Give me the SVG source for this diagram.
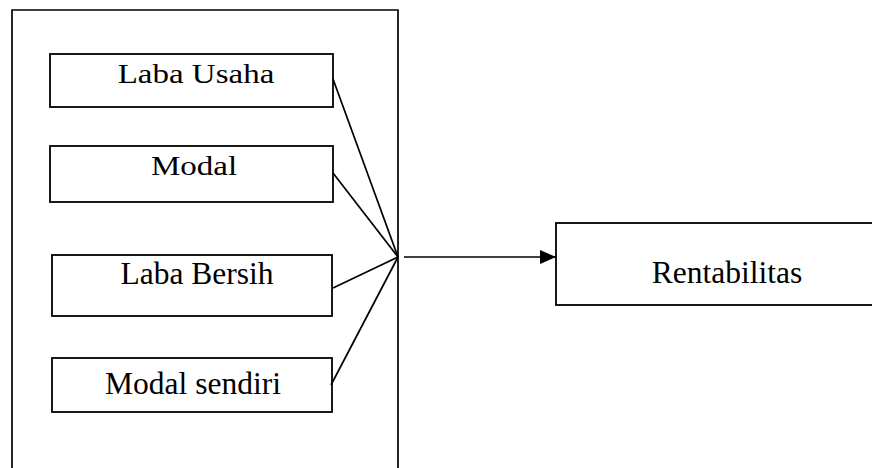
<svg xmlns="http://www.w3.org/2000/svg" width="872" height="468" viewBox="0 0 872 468">
<style>
.box{fill:#fff;stroke:#000;stroke-width:1.8}
.lbl{font-family:"Liberation Serif","Times New Roman",serif;font-size:31.5px;fill:#000;text-anchor:middle}
.top{font-size:33px}
.con{stroke:#000;stroke-width:1.7;fill:none}
</style>
<defs>
<marker id="arr" markerWidth="16" markerHeight="14" refX="16" refY="7" orient="auto" markerUnits="userSpaceOnUse">
<path d="M0,0 L16,7 L0,14 Z" fill="#000"/>
</marker>
</defs>
<rect width="872" height="468" fill="#fff"/>
<g id="group">
<path class="con" d="M12,470 L12,10 L398,10 L398,470"/>
</g>
<g id="laba-usaha">
<rect class="box" x="50" y="54" width="283" height="53"/>
<text class="lbl top" transform="translate(196,83) scale(1,0.84)">Laba Usaha</text>
</g>
<g id="modal">
<rect class="box" x="50" y="146" width="283" height="56"/>
<text class="lbl top" transform="translate(194,175) scale(1,0.84)">Modal</text>
</g>
<g id="laba-bersih">
<rect class="box" x="52" y="255" width="280" height="61"/>
<text class="lbl" x="197" y="284">Laba Bersih</text>
</g>
<g id="modal-sendiri">
<rect class="box" x="52" y="358" width="280" height="54"/>
<text class="lbl" x="193" y="394">Modal sendiri</text>
</g>
<g id="rentabilitas">
<rect class="box" x="556" y="223" width="330" height="82"/>
<text class="lbl" x="727" y="283">Rentabilitas</text>
</g>
<g id="connectors">
<line class="con" x1="333" y1="79" x2="398" y2="257"/>
<line class="con" x1="333" y1="173" x2="398" y2="257"/>
<line class="con" x1="333" y1="288" x2="398" y2="257"/>
<line class="con" x1="331" y1="385" x2="398" y2="257"/>
<line class="con" x1="404" y1="257" x2="556" y2="257" marker-end="url(#arr)"/>
</g>
</svg>
